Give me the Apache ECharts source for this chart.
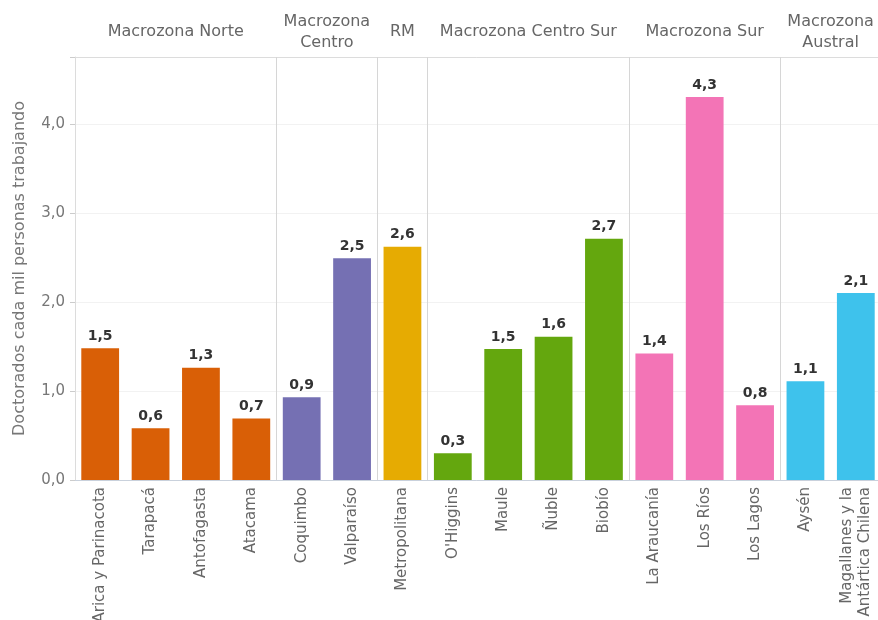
<!DOCTYPE html>
<html>
<head>
<meta charset="utf-8">
<script src="https://cdn.jsdelivr.net/npm/echarts@6/dist/echarts.min.js"></script>
<style>
  html, body { margin: 0; padding: 0; background: #fff; }
  #chart { width: 878px; height: 620px; }
</style>
</head>
<body>
<div id="chart"></div>
<script>
const regions = ['Arica y Parinacota', 'Tarapacá', 'Antofagasta', 'Atacama', 'Coquimbo', 'Valparaíso',
  'Metropolitana', "O'Higgins", 'Maule', 'Ñuble', 'Biobío', 'La Araucanía', 'Los Ríos', 'Los Lagos',
  'Aysén', 'Magallanes y la\nAntártica Chilena'];
const values = [1.48, 0.58, 1.26, 0.69, 0.93, 2.49, 2.62, 0.30, 1.47, 1.61, 2.71, 1.42, 4.30, 0.84, 1.11, 2.10];
const regionZone = [0, 0, 0, 0, 1, 1, 2, 3, 3, 3, 3, 4, 4, 4, 5, 5];
const zones = ['Macrozona Norte', 'Macrozona\nCentro', 'RM', 'Macrozona Centro Sur', 'Macrozona Sur', 'Macrozona\nAustral'];
const zoneCenters = [2, 5, 6.5, 9, 12.5, 15];
const zoneBounds = [4, 6, 7, 11, 14];
const zoneColors = ['#d95f06', '#7570b3', '#e6ab02', '#64a70e', '#f374b6', '#3ec2ec'];
const yTicks = [0, 1, 2, 3, 4];

const font = 'DejaVu Sans';
const fmt = (v) => v.toFixed(1).replace('.', ',');

const chart = echarts.init(document.getElementById('chart'));
chart.setOption({
  animation: false,
  textStyle: { fontFamily: font },
  grid: { left: 75, top: 57, width: 806, bottom: 140, containLabel: false, outerBoundsMode: 'none' },
  xAxis: [{
    type: 'category',
    data: regions,
    axisLine: { lineStyle: { color: '#c9d1dc' } },
    axisTick: { show: false },
    axisLabel: { rotate: 90, margin: 7, color: '#666', fontSize: 15, interval: 0, lineHeight: 18 },
  }, {
    type: 'value',
    position: 'top',
    min: 0,
    max: 16,
    axisLine: { show: true, lineStyle: { color: '#dcdcdc' } },
    axisTick: { show: true, inside: true, length: 423, customValues: zoneBounds, lineStyle: { color: '#d6d6d6' } },
    axisLabel: {
      customValues: zoneCenters,
      formatter: (v) => zones[zoneCenters.indexOf(v)] || '',
      verticalAlign: 'middle',
      margin: 25,
      color: '#666',
      fontSize: 16,
      lineHeight: 21,
    },
    splitLine: { show: false },
  }],
  yAxis: {
    type: 'value',
    min: 0,
    max: 4.75,
    interval: 1,
    name: 'Doctorados cada mil personas trabajando',
    nameLocation: 'middle',
    nameGap: 47,
    nameTextStyle: { color: '#777', fontSize: 16 },
    axisLine: { show: true, lineStyle: { color: '#dcdcdc' } },
    axisTick: { show: true, length: 5, lineStyle: { color: '#ccc' } },
    axisLabel: {
      color: '#777',
      fontSize: 15,
      margin: 10,
      formatter: (v) => (yTicks.includes(v) ? fmt(v) : ''),
    },
    splitLine: { lineStyle: { color: '#f2f2f2' } },
  },
  series: [{
    type: 'bar',
    barCategoryGap: '25%',
    data: values.map((v, i) => ({ value: v, itemStyle: { color: zoneColors[regionZone[i]] } })),
    label: {
      show: true,
      position: 'top',
      distance: 5,
      color: '#333',
      fontSize: 14,
      fontWeight: 'bold',
      formatter: (p) => fmt(p.value),
    },
  }],
});
</script>
</body>
</html>
